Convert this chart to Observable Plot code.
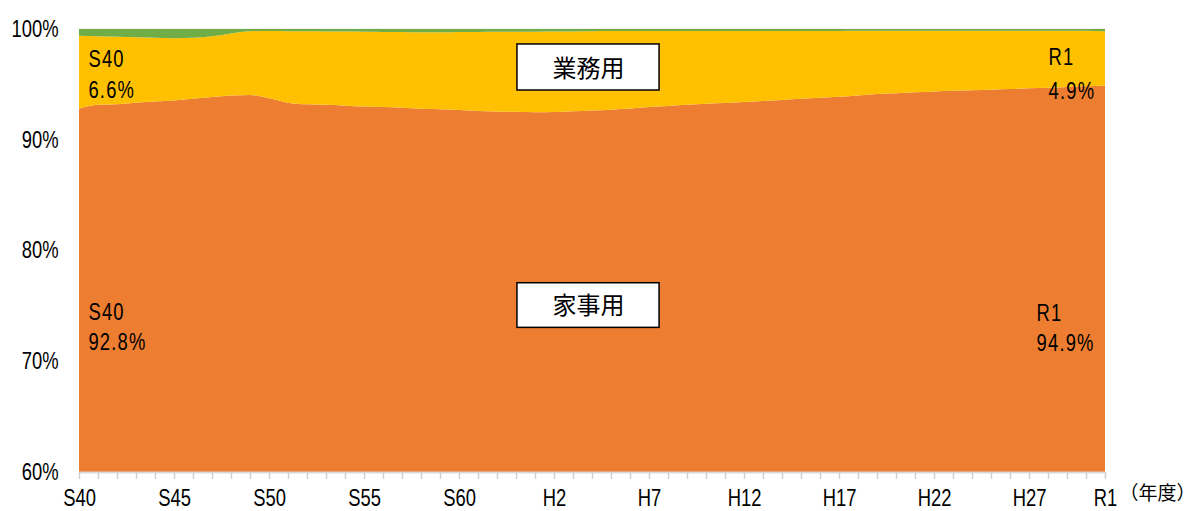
<!DOCTYPE html>
<html><head><meta charset="utf-8">
<script src="https://cdn.jsdelivr.net/npm/d3@7"></script>
<script src="https://cdn.jsdelivr.net/npm/@observablehq/plot@0.6"></script>
<style>
body{margin:0;background:#fff;}
#chart{width:1194px;height:511px;}
</style></head><body><div id="chart"></div>
<script>
// 年度 (1965 = S40 ... 2019 = R1)
const years = [1965,1966,1967,1968,1969,1970,1971,1972,1973,1974,1975,1976,1977,1978,1979,1980,1981,1982,1983,1984,1985,1986,1987,1988,1989,1990,1991,1992,1993,1994,1995,1996,1997,1998,1999,2000,2001,2002,2003,2004,2005,2006,2007,2008,2009,2010,2011,2012,2013,2014,2015,2016,2017,2018,2019];
// 家事用 (%)
const household = [92.8,93.15,93.2,93.35,93.45,93.55,93.7,93.85,94.0,94.05,93.75,93.35,93.2,93.15,93.08,93.0,92.95,92.88,92.8,92.75,92.68,92.6,92.55,92.52,92.48,92.5,92.58,92.65,92.72,92.82,92.95,93.05,93.15,93.25,93.32,93.4,93.5,93.6,93.7,93.8,93.88,94.0,94.13,94.2,94.28,94.35,94.42,94.46,94.52,94.58,94.64,94.7,94.77,94.83,94.9];
// 業務用 (%)
const business = [6.6,6.2,6.1,5.9,5.75,5.62,5.5,5.5,5.6,5.75,6.07,6.45,6.6,6.63,6.69,6.76,6.79,6.84,6.9,6.95,7.04,7.14,7.2,7.24,7.28,7.27,7.2,7.15,7.1,7.0,6.87,6.77,6.67,6.57,6.5,6.42,6.32,6.22,6.12,6.02,5.94,5.84,5.71,5.64,5.56,5.49,5.42,5.38,5.32,5.26,5.2,5.14,5.07,5.01,4.9];
// その他 (%)
const other = [0.6,0.65,0.7,0.75,0.8,0.83,0.8,0.65,0.4,0.2,0.18,0.2,0.2,0.22,0.23,0.24,0.26,0.28,0.3,0.3,0.28,0.26,0.25,0.24,0.24,0.23,0.22,0.2,0.18,0.18,0.18,0.18,0.18,0.18,0.18,0.18,0.18,0.18,0.18,0.18,0.18,0.16,0.16,0.16,0.16,0.16,0.16,0.16,0.16,0.16,0.16,0.16,0.16,0.16,0.2];

const seriesNames = ["家事用","業務用","その他"];
const seriesColors = ["#ED7D31","#FFC000","#70AD47"];

const tickYears = [1965,1970,1975,1980,1985,1990,1995,2000,2005,2010,2015,2019];
const tickLabels = ["S40","S45","S50","S55","S60","H2","H7","H12","H17","H22","H27","R1"];
const yTicks = [60,70,80,90,100];

// value labels (position in year / % units)
const valueLabels = [
  {year:1965.47, pct:97.29, text:"S40"},
  {year:1965.47, pct:94.49, text:"6.6%"},
  {year:1965.47, pct:74.47, text:"S40"},
  {year:1965.47, pct:71.76, text:"92.8%"},
  {year:2016.0, pct:97.47, text:"R1"},
  {year:2016.0, pct:94.43, text:"4.9%"},
  {year:2015.37, pct:74.36, text:"R1"},
  {year:2015.37, pct:71.65, text:"94.9%"}
];
// boxed series names
const boxes = [
  {name:"業務用", x1:1988.05, x2:1995.53, y1:94.49, y2:98.65, cx:1991.79, cy:96.45},
  {name:"家事用", x1:1988.05, x2:1995.53, y1:73.06, y2:77.09, cx:1991.79, cy:75.0}
];

const rows = [];
years.forEach((yr, i) => {
  rows.push({year: yr, series: "家事用", value: household[i]});
  rows.push({year: yr, series: "業務用", value: business[i]});
  rows.push({year: yr, series: "その他", value: other[i]});
});

const numFont = "'Liberation Sans',Arial,sans-serif";
const cjkFont = "'Noto Sans CJK JP',sans-serif";

const chart = Plot.plot({
  width: 1194,
  height: 511,
  marginLeft: 79,
  marginRight: 89,
  marginTop: 29,
  marginBottom: 39,
  style: {fontFamily: numFont, fontSize: "23px", color: "#000", background: "#fff", overflow: "visible"},
  x: {type: "linear", domain: [1965, 2019]},
  y: {domain: [60, 100]},
  color: {domain: seriesNames, range: seriesColors},
  marks: [
    Plot.ruleY([100], {stroke: "#d0d0d0", strokeWidth: 1.5}),
    Plot.areaY(rows, {x: "year", y: "value", z: "series", fill: "series", order: seriesNames, curve: "monotone-x", clip: true}),
    Plot.ruleY([60], {stroke: "#d9d9d9", strokeWidth: 2}),
    Plot.axisX({ticks: years, tickFormat: () => "", tickSize: 7, stroke: "#d0d0d0", strokeWidth: 1.5}),
    Plot.axisX({ticks: tickYears, tickFormat: (d) => tickLabels[tickYears.indexOf(d)], tickSize: 0, tickPadding: 17, fontSize: 23, fill: "#000", className: "num"}),
    Plot.axisY({ticks: yTicks, tickFormat: (d) => d + "%", tickSize: 0, tickPadding: 21, fontSize: 23, fill: "#000", className: "num"}),
    Plot.text(valueLabels, {x: "year", y: "pct", text: "text", textAnchor: "start", fontSize: 23, fill: "#000", className: "num vals"}),
    Plot.rect(boxes, {x1: "x1", x2: "x2", y1: "y1", y2: "y2", fill: "#fff", stroke: "#000", strokeWidth: 1.5}),
    Plot.text(boxes, {x: "cx", y: "cy", text: "name", fontSize: 24, fontFamily: cjkFont, fill: "#000"}),
    Plot.text(["（年度）"], {frameAnchor: "bottom-right", dx: 90, dy: 27, textAnchor: "end", fontSize: 19, fontFamily: cjkFont, fill: "#000"})
  ]
});
// condensed look for the half-width numeric labels
d3.select(chart).selectAll("g.num text").each(function() {
  const t = this.getAttribute("transform") || "";
  this.setAttribute("transform", t + " scale(0.8,1)");
});
d3.select(chart).selectAll("g.vals text").attr("letter-spacing", "1.5px");
document.getElementById("chart").appendChild(chart);
</script>
</body></html>
